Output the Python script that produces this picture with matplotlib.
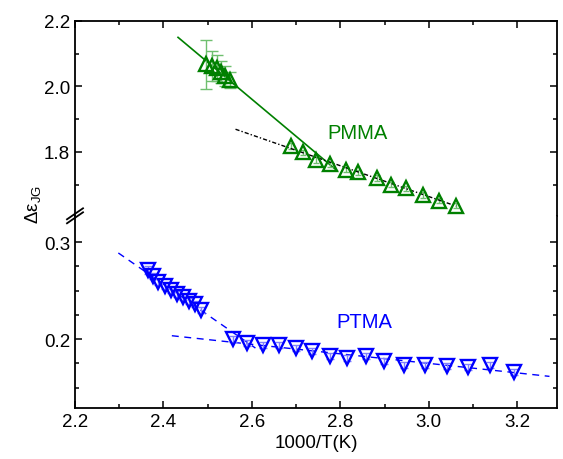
import matplotlib
matplotlib.use("Agg")
import matplotlib.pyplot as plt
from matplotlib.ticker import MultipleLocator, FixedLocator, FormatStrFormatter
from matplotlib.lines import Line2D

plt.rcParams['font.family'] = ['Liberation Sans', 'DejaVu Sans']
plt.rcParams['mathtext.fontset'] = 'custom'
plt.rcParams['mathtext.rm'] = 'Liberation Sans'
plt.rcParams['mathtext.it'] = 'Liberation Sans:italic'

# ---- data ----
pmma_hi_x = [2.496, 2.510, 2.521, 2.530, 2.540, 2.551]
pmma_hi_y = [2.068, 2.063, 2.055, 2.044, 2.032, 2.020]
pmma_hi_err = [0.075, 0.045, 0.040, 0.035, 0.030, 0.025]

pmma_lo_x = [2.689, 2.716, 2.744, 2.776, 2.812, 2.841, 2.882, 2.914, 2.948, 2.986, 3.024, 3.061]
pmma_lo_y = [1.818, 1.798, 1.775, 1.762, 1.745, 1.737, 1.720, 1.699, 1.688, 1.668, 1.650, 1.635]
pmma_lo_err = [0.008] * 12

ptma_hi_x = [2.366, 2.377, 2.388, 2.404, 2.418, 2.431, 2.445, 2.458, 2.472, 2.486]
ptma_hi_y = [0.2711, 0.2649, 0.2588, 0.2546, 0.2505, 0.2464, 0.2433, 0.2392, 0.2361, 0.2299]
ptma_hi_err = [0.004, 0.003, 0.003, 0.003, 0.003, 0.003, 0.003, 0.003, 0.003, 0.003]

ptma_lo_x = [2.557, 2.590, 2.625, 2.661, 2.699, 2.737, 2.776, 2.816, 2.857, 2.899,
             2.944, 2.991, 3.041, 3.088, 3.139, 3.192]
ptma_lo_y = [0.2000, 0.1956, 0.1938, 0.1938, 0.1904, 0.1879, 0.1822, 0.1801, 0.1828, 0.1776,
             0.1735, 0.1735, 0.1725, 0.1708, 0.1732, 0.1663]
ptma_lo_err = [0.003] * 16

# fit lines (endpoints)
pmma_fit_hi_x = [2.433, 2.793]
pmma_fit_hi_y = [2.150, 1.742]
pmma_fit_lo_x = [2.563, 3.062]
pmma_fit_lo_y = [1.869, 1.634]
ptma_fit_hi_x = [2.298, 2.608]
ptma_fit_hi_y = [0.2887, 0.1907]
ptma_fit_lo_x = [2.419, 3.273]
ptma_fit_lo_y = [0.2034, 0.1615]

xticks = [2.2, 2.4, 2.6, 2.8, 3.0, 3.2]
top_yticks = [1.8, 2.0, 2.2]
bot_yticks = [0.2, 0.3]

GREEN = '#008000'
LGREEN = '#6fbf6f'
BLUE = '#0000ff'
LBLUE = '#7f7fff'

W, H = 563, 460
fig = plt.figure(figsize=(W / 100, H / 100), dpi=100)

L, R = 75, 557
T, B, BRK = 22, 409, 217
ax_t = fig.add_axes([L / W, 1 - BRK / H, (R - L) / W, (BRK - T) / H])
ax_b = fig.add_axes([L / W, 1 - B / H, (R - L) / W, (B - BRK) / H])

for ax in (ax_t, ax_b):
    ax.set_xlim(2.2, 3.29)
    ax.xaxis.set_major_locator(FixedLocator(xticks))
    ax.xaxis.set_minor_locator(MultipleLocator(0.1))
    for s in ax.spines.values():
        s.set_linewidth(1.3)
    ax.tick_params(which='both', direction='in', width=1.1, labelsize=13.5,
                   left=True, right=True, top=True, bottom=True)
    ax.tick_params(which='major', length=5)
    ax.tick_params(which='minor', length=3)

ax_t.set_ylim(1.6037, 2.2)
ax_t.yaxis.set_major_locator(FixedLocator(top_yticks))
ax_t.yaxis.set_minor_locator(FixedLocator([1.7, 1.9, 2.1]))
ax_t.yaxis.set_major_formatter(FormatStrFormatter('%.1f'))
ax_t.spines['bottom'].set_visible(False)
ax_t.tick_params(which='both', bottom=False, labelbottom=False)

ax_b.set_ylim(0.1289, 0.3268)
ax_b.yaxis.set_major_locator(FixedLocator(bot_yticks))
ax_b.yaxis.set_minor_locator(FixedLocator([0.15, 0.175, 0.225, 0.25, 0.275]))
ax_b.yaxis.set_major_formatter(FormatStrFormatter('%.1f'))
ax_b.spines['top'].set_visible(False)
ax_b.tick_params(which='both', top=False)
ax_b.xaxis.set_major_formatter(FormatStrFormatter('%.1f'))

# ---- PMMA ----
ax_t.plot(pmma_fit_hi_x, pmma_fit_hi_y, '-', color=GREEN, lw=1.2, zorder=2)
ax_t.plot(pmma_fit_lo_x, pmma_fit_lo_y, color='black', lw=1.0, dashes=(3, 1.5, 1, 1.5), zorder=4)
ax_t.errorbar(pmma_hi_x, pmma_hi_y, yerr=pmma_hi_err, fmt='none', ecolor=LGREEN,
              elinewidth=1.0, capsize=4, capthick=1.0, zorder=3)
ax_t.plot(pmma_hi_x, pmma_hi_y, '^', ms=10, mfc='none', mec=GREEN, mew=1.7, zorder=5)
ax_t.errorbar(pmma_lo_x, pmma_lo_y, yerr=pmma_lo_err, fmt='none', ecolor=LGREEN,
              elinewidth=1.0, capsize=2.5, capthick=1.0, zorder=3)
ax_t.plot(pmma_lo_x, pmma_lo_y, '^', ms=9.5, mfc='none', mec=GREEN, mew=1.7, zorder=5)
ax_t.text(2.839, 1.860, 'PMMA', color=GREEN, fontsize=14.5, ha='center', va='center')

# ---- PTMA ----
ax_b.plot(ptma_fit_hi_x, ptma_fit_hi_y, color=BLUE, lw=1.0, dashes=(5, 4), zorder=2)
ax_b.plot(ptma_fit_lo_x, ptma_fit_lo_y, color=BLUE, lw=1.0, dashes=(5, 4), zorder=2)
ax_b.errorbar(ptma_hi_x, ptma_hi_y, yerr=ptma_hi_err, fmt='none', ecolor=LBLUE,
              elinewidth=1.0, capsize=3, capthick=1.0, zorder=3)
ax_b.plot(ptma_hi_x, ptma_hi_y, 'v', ms=9.5, mfc='none', mec=BLUE, mew=1.7, zorder=5)
ax_b.errorbar(ptma_lo_x, ptma_lo_y, yerr=ptma_lo_err, fmt='none', ecolor=LBLUE,
              elinewidth=1.0, capsize=3, capthick=1.0, zorder=3)
ax_b.plot(ptma_lo_x, ptma_lo_y, 'v', ms=9.5, mfc='none', mec=BLUE, mew=1.7, zorder=5)
ax_b.text(2.855, 0.2180, 'PTMA', color=BLUE, fontsize=14.5, ha='center', va='center')

ax_b.set_xlabel('1000/T(K)', fontsize=13.5, labelpad=3)

# y label
fig.text(33 / W, 1 - 205 / H, 'Δε$_{\\mathrm{JG}}$', rotation=90, fontsize=13.5,
         ha='center', va='center')

# break marks on left spine
for yc in (BRK - 2.2, BRK + 1.8):
    x0, x1 = L - 8, L + 8
    y0, y1 = yc + 5.5, yc - 5.5
    fig.add_artist(Line2D([x0 / W, x1 / W], [1 - y0 / H, 1 - y1 / H],
                          color='black', lw=1.3, transform=fig.transFigure))

fig.savefig('out.png', dpi=100)
